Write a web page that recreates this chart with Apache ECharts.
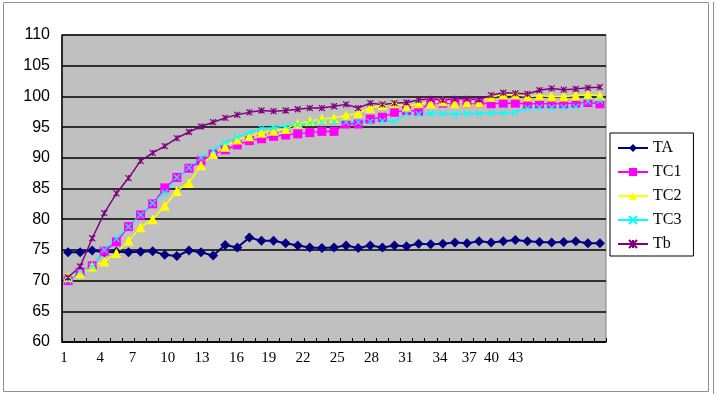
<!DOCTYPE html>
<html>
<head>
<meta charset="utf-8">
<script src="https://cdn.jsdelivr.net/npm/echarts@6/dist/echarts.min.js"></script>
<style>
html,body{margin:0;padding:0;background:#fff;}
#chart{width:717px;height:396px;}
</style>
</head>
<body>
<div id="chart"></div>
<script>
const categories = ['1','2','3','4','5','6','7','8','9','10','11','12','13','14','15','16','17','18','19','20','21','22','23','24','25','26','27','28','29','30','31','32','33','34','35','36','37','38','39','40','41','42','43','44','45'];
const TA  = [74.6,74.6,74.9,74.6,74.7,74.6,74.7,74.8,74.2,74.0,74.9,74.6,74.1,75.8,75.4,77.0,76.5,76.5,76.1,75.7,75.4,75.3,75.4,75.7,75.3,75.7,75.4,75.7,75.6,76.0,75.9,76.0,76.2,76.1,76.4,76.2,76.4,76.6,76.4,76.3,76.2,76.3,76.4,76.1,76.1];
const TC1 = [70.0,71.4,72.4,74.8,76.3,78.8,80.7,82.5,85.1,86.8,88.3,89.5,90.6,91.3,92.1,92.8,93.1,93.5,93.7,93.9,94.1,94.3,94.3,95.5,95.5,96.3,96.6,97.4,97.7,97.6,99.0,98.9,98.9,98.9,98.9,98.8,98.9,98.9,98.8,98.8,98.8,98.8,98.9,99.0,98.8];
const TC2 = [70.6,71.2,72.3,73.1,74.5,76.5,78.7,80.0,82.2,84.6,85.9,88.8,90.6,91.8,93.0,93.5,94.1,94.4,94.7,95.6,96.0,96.3,96.5,96.9,97.3,98.1,98.6,98.9,98.3,98.9,98.9,99.2,98.9,99.0,99.0,99.9,100.3,100.3,100.0,100.1,100.0,100.0,100.1,100.3,100.1];
const TC3 = [70.0,71.5,72.3,75.0,76.8,78.8,80.7,82.6,84.3,86.8,88.4,90.0,91.2,92.5,93.4,94.1,94.8,94.9,95.2,95.4,95.6,95.8,95.8,95.8,95.8,95.9,96.0,95.9,97.2,97.1,97.2,97.2,97.1,97.2,97.2,97.3,97.3,97.4,98.1,98.2,98.2,98.2,98.3,99.2,99.3];
const Tb  = [70.5,72.3,76.9,81.0,84.2,86.7,89.5,90.8,91.9,93.2,94.2,95.1,95.8,96.5,97.0,97.4,97.7,97.6,97.7,97.9,98.1,98.1,98.4,98.7,98.1,98.9,98.7,98.9,99.0,99.4,99.6,99.4,99.6,99.6,99.5,100.2,100.6,100.5,100.4,101.0,101.3,101.1,101.2,101.4,101.5];
const yMin = 60, yMax = 110, yStep = 5;

// label offsets (px) to mimic the original label placement
const labelShift = {0:-4,3:-4,6:-8,9:-9,12:-11,15:-13,18:-17,21:-19,24:-21,27:-23,30:-25,33:-27,36:-34,39:-48,42:-60};
const xFont = {fontFamily:'Liberation Serif', fontSize:15, color:'#000'};
const rich = {};
Object.keys(labelShift).forEach(k => {
  rich['s'+k] = Object.assign({padding:[0, -2*labelShift[k], 0, 0]}, xFont);
});

const X_PATH = 'path://M0,0L10,10M10,0L0,10';
const STAR_PATH = 'path://M0,0L10,10M10,0L0,10M5,0L5,10';

const chart = echarts.init(document.getElementById('chart'), null, {renderer:'canvas'});
chart.setOption({
  animation:false,
  backgroundColor:'#fff',
  graphic:[
    {type:'rect', shape:{x:3.5,y:2.5,width:705,height:389}, style:{fill:'none', stroke:'#909090', lineWidth:1}, z:-1},
    {type:'line', shape:{x1:713.5,y1:2,x2:713.5,y2:394}, style:{stroke:'#909090', lineWidth:1}, z:-1}
  ],
  grid:{left:62, right:111, top:35, bottom:54, show:true, backgroundColor:'#c0c0c0', borderColor:'#808080', borderWidth:1},
  legend:{
    orient:'vertical', left:610, top:133,
    itemWidth:30, itemHeight:10, itemGap:8,
    padding:[7,12,4,7],
    borderColor:'#000', borderWidth:1, backgroundColor:'#fff',
    textStyle:{fontFamily:'Liberation Serif', fontSize:16, lineHeight:14, color:'#000'},
    data:['TA','TC1','TC2','TC3','Tb']
  },
  xAxis:{
    type:'category', data:categories, boundaryGap:true,
    axisLine:{lineStyle:{color:'#000', width:1.5}},
    axisTick:{show:true, inside:true, length:4, interval:0, lineStyle:{color:'#000', width:1}},
    axisLabel:{
      interval:2, margin:9,
      fontFamily:'Liberation Serif', fontSize:15, color:'#000',
      formatter:function(v, i){ return labelShift[i] !== undefined ? '{s'+i+'|'+v+'}' : ''; },
      rich:rich
    },
    splitLine:{show:false}
  },
  yAxis:{
    type:'value', min:yMin, max:yMax, interval:yStep,
    axisLine:{show:true, lineStyle:{color:'#000', width:1.5}},
    axisTick:{show:false},
    axisLabel:{margin:12, fontFamily:'Liberation Sans', fontSize:16, color:'#000'},
    splitLine:{show:true, lineStyle:{color:'#000', width:1.5}}
  },
  series:[
    {name:'TA', type:'line', data:TA, symbol:'diamond', symbolSize:10, showAllSymbol:true,
     lineStyle:{color:'#000080', width:2}, itemStyle:{color:'#000080'}},
    {name:'TC1', type:'line', data:TC1, symbol:'rect', symbolSize:9, showAllSymbol:true,
     lineStyle:{color:'#ff00ff', width:1.5}, itemStyle:{color:'#ff00ff'}},
    {name:'TC2', type:'line', data:TC2, symbol:'triangle', symbolSize:10, showAllSymbol:true,
     lineStyle:{color:'#ffff00', width:1.5}, itemStyle:{color:'#ffff00'}},
    {name:'TC3', type:'line', data:TC3, symbol:X_PATH, symbolSize:6, showAllSymbol:true,
     lineStyle:{color:'#00ffff', width:1.5}, itemStyle:{color:'#00ffff', borderColor:'#00ffff', borderWidth:1.2}},
    {name:'Tb', type:'line', data:Tb, symbol:STAR_PATH, symbolSize:6, showAllSymbol:true,
     lineStyle:{color:'#800080', width:1.5}, itemStyle:{color:'#800080', borderColor:'#800080', borderWidth:1.2}}
  ]
});
</script>
</body>
</html>
